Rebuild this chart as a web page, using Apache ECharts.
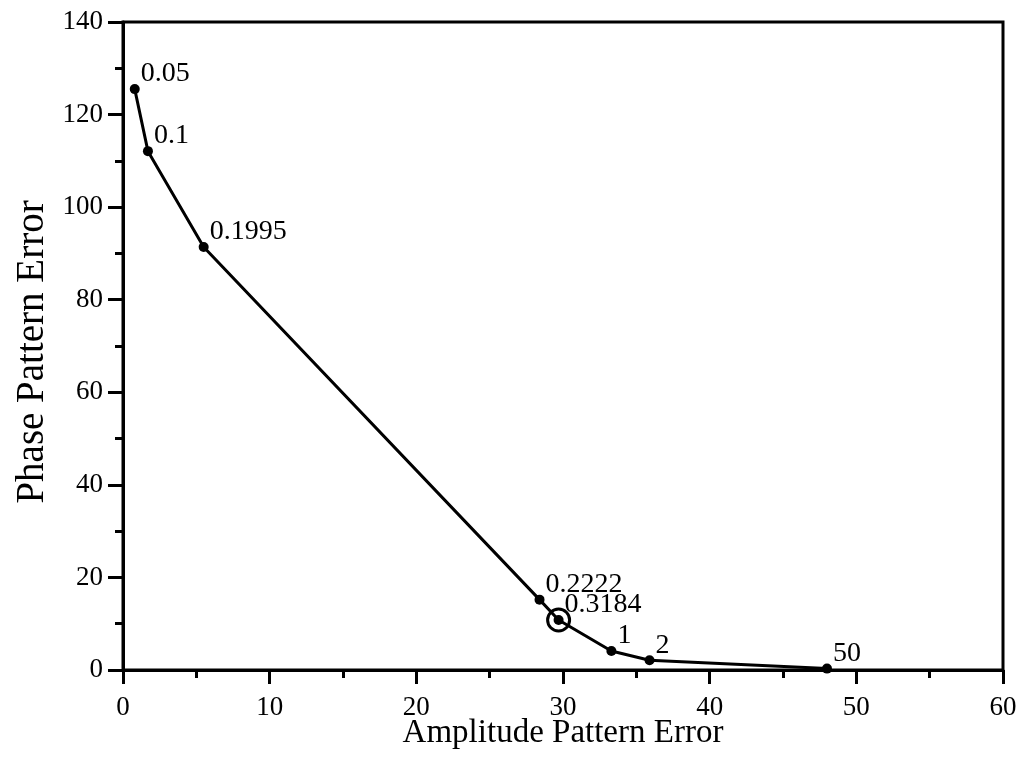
<!DOCTYPE html>
<html>
<head>
<meta charset="utf-8">
<script src="https://cdn.jsdelivr.net/npm/echarts@6/dist/echarts.min.js"></script>
<style>
  html, body { margin: 0; padding: 0; background: #fff; }
  #chart { width: 1022px; height: 760px; }
</style>
</head>
<body>
<div id="chart"></div>
<script>
// 数据
var ampError = [0.8, 1.7, 5.5, 28.4, 29.7, 33.3, 35.9, 48.0];
var phaseError = [125.5, 112.1, 91.4, 15.2, 10.8, 4.1, 2.1, 0.3];
var paramLabels = ['0.05', '0.1', '0.1995', '0.2222', '0.3184', '1', '2', '50'];
var chosenIndex = 4; // 0.3184 圈出

var font = 'Liberation Serif, Times New Roman, serif';

var points = ampError.map(function (x, i) {
    return { value: [x, phaseError[i]], name: paramLabels[i] };
});

var myChart = echarts.init(document.getElementById('chart'));

var option = {
    animation: false,
    grid: {
        left: 123, right: 19, top: 22, bottom: 90,
        outerBoundsMode: 'none',
        show: true, borderColor: '#000', borderWidth: 3
    },
    xAxis: {
        type: 'value', min: 0, max: 60, interval: 10,
        name: 'Amplitude Pattern Error',
        nameLocation: 'middle', nameGap: 47,
        nameMoveOverlap: false,
        nameTextStyle: { fontFamily: font, fontSize: 33, color: '#000' },
        axisLine: { lineStyle: { color: '#000', width: 3 } },
        axisTick: { length: 14, lineStyle: { width: 3 } },
        minorTick: { show: true, splitNumber: 2, length: 8, lineStyle: { color: '#000', width: 3 } },
        axisLabel: { fontFamily: font, fontSize: 27, color: '#000', margin: 24 },
        splitLine: { show: false }
    },
    yAxis: {
        type: 'value', min: 0, max: 140, interval: 20,
        name: 'Phase Pattern Error',
        nameLocation: 'middle', nameGap: 71,
        nameMoveOverlap: false,
        nameTextStyle: { fontFamily: font, fontSize: 39, color: '#000', padding: [0, 12, 0, 0] },
        axisLine: { lineStyle: { color: '#000', width: 3 } },
        axisTick: { length: 15, lineStyle: { width: 3 } },
        minorTick: { show: true, splitNumber: 2, length: 8, lineStyle: { color: '#000', width: 3 } },
        axisLabel: { fontFamily: font, fontSize: 27, color: '#000', margin: 20 },
        splitLine: { show: false }
    },
    series: [{
        type: 'line',
        data: points,
        symbol: 'circle',
        symbolSize: 10,
        itemStyle: { color: '#000' },
        lineStyle: { color: '#000', width: 3 },
        z: 3,
        label: {
            show: true,
            position: 'right',
            distance: 1,
            offset: [0, -15],
            formatter: '{b}',
            fontFamily: font, fontSize: 28, color: '#000'
        }
    }, {
        type: 'scatter',
        data: [points[chosenIndex].value],
        symbol: 'circle',
        symbolSize: 22,
        itemStyle: { color: 'rgba(0,0,0,0)', borderColor: '#000', borderWidth: 3, opacity: 1 },
        z: 4,
        silent: true
    }]
};

myChart.setOption(option);
</script>
</body>
</html>
